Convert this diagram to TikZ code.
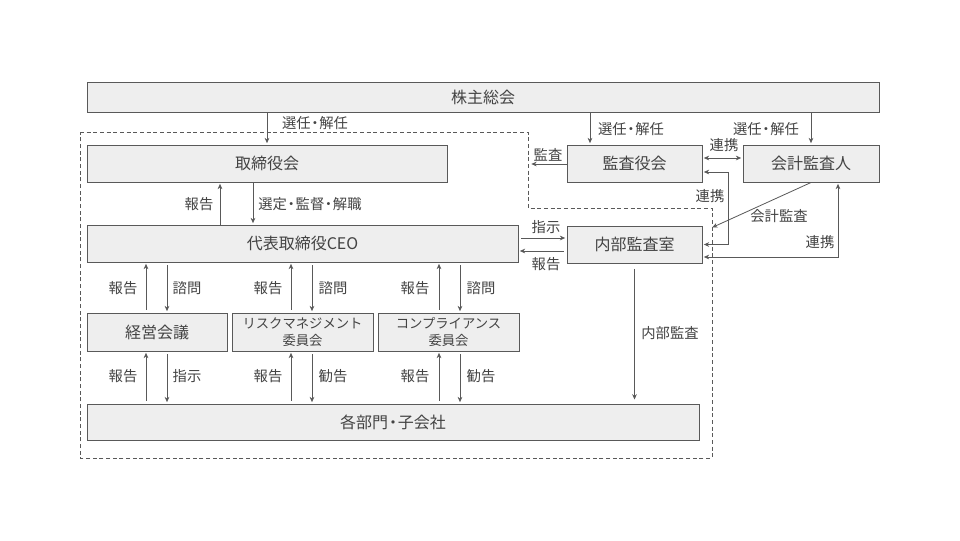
\documentclass[tikz,border=0pt]{standalone}
\usepackage{fontspec}
\setmainfont{Noto Sans CJK JP}
\usetikzlibrary{arrows.meta,calc}
\definecolor{ln}{HTML}{595959}
\definecolor{fl}{HTML}{EEEEEE}
\definecolor{tx}{HTML}{434343}
\newcommand\ndot{\kern-0.2em・\kern-0.2em}
\tikzset{
 box/.style={draw=ln, fill=fl, line width=0.75pt, text=tx, font=\fontsize{12}{14}\selectfont, inner sep=0pt, align=center},
 sbox/.style={box, font=\fontsize{10}{12.75}\selectfont},
 lbl/.style={text=tx, font=\fontsize{10.75}{12}\selectfont, inner sep=0pt},
 arr/.style={draw=ln, line width=0.6pt, -{Stealth[length=4pt,width=3.5pt]}, shorten >=1pt},
 arrb/.style={draw=ln, line width=0.6pt, {Stealth[length=4pt,width=3.5pt]}-{Stealth[length=4pt,width=3.5pt]}, shorten >=1pt, shorten <=1pt},
 frame/.style={draw=ln, line width=0.6pt, dash pattern=on 3pt off 2pt},
}
\begin{document}
\begin{tikzpicture}[x=0.75pt,y=-0.75pt]
\useasboundingbox (0,0) rectangle (960,540);
\fill[white] (0,0) rectangle (960,540);
% dashed frame
\draw[frame] (80,132) -- (528,132) -- (528,208) -- (712,208) -- (712,458) -- (80,458) -- cycle;
% boxes
\node[box, minimum width=594pt, minimum height=22.5pt] (sh) at (483,97) {株主総会};
\node[box, minimum width=270pt, minimum height=27.75pt] (bod) at (267,163.5) {取締役会};
\node[box, minimum width=101.25pt, minimum height=27.75pt] (kansa) at (634.5,163.5) {監査役会};
\node[box, minimum width=102pt, minimum height=27.75pt] (acct) at (811,163.5) {会計監査人};
\node[box, minimum width=323.25pt, minimum height=27.75pt] (ceo) at (302.5,243.5) {代表取締役CEO};
\node[box, minimum width=101.25pt, minimum height=27.75pt] (naibu) at (634.5,244.5) {内部監査室};
\node[box, minimum width=105pt, minimum height=28.5pt] (keiei) at (157,332) {経営会議};
\node[sbox, minimum width=105.75pt, minimum height=28.5pt] (risk) at (302.5,332) {リスクマネジメント\\委員会};
\node[sbox, minimum width=105.75pt, minimum height=28.5pt] (comp) at (448.5,332) {コンプライアンス\\委員会};
\node[box, minimum width=459pt, minimum height=27pt] (bumon) at (393,422) {各部門\ndot 子会社};
% helper coordinates
\coordinate (xk) at (590,0);
\coordinate (u1) at (220,0);
\coordinate (d1) at (253,0);
\coordinate (xa) at (146,0);
\coordinate (xb) at (167,0);
\coordinate (xc) at (291,0);
\coordinate (xd) at (312,0);
\coordinate (xe) at (439,0);
\coordinate (xf) at (460,0);
\coordinate (xg) at (838,0);
\coordinate (ya) at (0,238);
\coordinate (yb) at (0,251);
\coordinate (kw) at (530,164);
\coordinate (ae) at (711,228);
% shareholders
\draw[arr] (sh.south -| bod.north) -- (bod.north);
\draw[arr] (sh.south -| xk) -- (kansa.north -| xk);
\draw[arr] (sh.south -| acct.north) -- (acct.north);
% board - ceo
\draw[arr] (ceo.north -| u1) -- (bod.south -| u1);
\draw[arr] (bod.south -| d1) -- (ceo.north -| d1);
% ceo - committees
\draw[arr, shorten <=2pt] (keiei.north -| xa) -- (ceo.south -| xa);
\draw[arr, shorten <=2pt] (ceo.south -| xb) -- (keiei.north -| xb);
\draw[arr, shorten <=2pt] (risk.north -| xc) -- (ceo.south -| xc);
\draw[arr, shorten <=2pt] (ceo.south -| xd) -- (risk.north -| xd);
\draw[arr, shorten <=2pt] (comp.north -| xe) -- (ceo.south -| xe);
\draw[arr, shorten <=2pt] (ceo.south -| xf) -- (comp.north -| xf);
% committees - divisions
\draw[arr, shorten <=2pt] (bumon.north -| xa) -- (keiei.south -| xa);
\draw[arr, shorten <=2pt] (keiei.south -| xb) -- (bumon.north -| xb);
\draw[arr, shorten <=2pt] (bumon.north -| xc) -- (risk.south -| xc);
\draw[arr, shorten <=2pt] (risk.south -| xd) -- (bumon.north -| xd);
\draw[arr, shorten <=2pt] (bumon.north -| xe) -- (comp.south -| xe);
\draw[arr, shorten <=2pt] (comp.south -| xf) -- (bumon.north -| xf);
% audit side
\draw[arr] (kansa.west |- kw) -- (kw);
\draw[arrb] ([yshift=4.125pt]kansa.east) -- ([yshift=4.125pt]acct.west);
\draw[arrb] ([yshift=-6.375pt]kansa.east) -- ++(26,0) |- (naibu.east);
\draw[arr] (acct.south) -- (ae);
\draw[arrb] ([yshift=-9.375pt]naibu.east) -| (acct.south -| xg);
\draw[arr, shorten <=2pt] (ceo.east |- ya) -- (naibu.west |- ya);
\draw[arr, shorten <=2pt] (naibu.west |- yb) -- (ceo.east |- yb);
\draw[arr, shorten <=4pt, shorten >=3pt] (naibu.south) -- (bumon.north -| naibu.south);
% labels
\node[lbl] (l1) at (315,123) {選任\ndot 解任};
\node[lbl] (l2) at (631,129) {選任\ndot 解任};
\node[lbl] (l3) at (766,129) {選任\ndot 解任};
\node[lbl] (l4) at (548,155) {監査};
\node[lbl] (l5) at (724,145) {連携};
\node[lbl] (l6) at (710,196) {連携};
\node[lbl] (l7) at (779,216) {会計監査};
\node[lbl] (l8) at (820,242) {連携};
\node[lbl] (l9) at (546,227) {指示};
\node[lbl] (l10) at (546,264) {報告};
\node[lbl] (l11) at (670,333) {内部監査};
\node[lbl] (l12) at (199,204) {報告};
\node[lbl] (l13) at (310,204) {選定\ndot 監督\ndot 解職};
\node[lbl] (l14) at (123,288) {報告};
\node[lbl] (l15) at (187,288) {諮問};
\node[lbl] (l16) at (268,288) {報告};
\node[lbl] (l17) at (333,288) {諮問};
\node[lbl] (l18) at (415,288) {報告};
\node[lbl] (l19) at (481,288) {諮問};
\node[lbl] (l20) at (123,376) {報告};
\node[lbl] (l21) at (187,376) {指示};
\node[lbl] (l22) at (268,376) {報告};
\node[lbl] (l23) at (333,376) {勧告};
\node[lbl] (l24) at (415,376) {報告};
\node[lbl] (l25) at (481,376) {勧告};
\end{tikzpicture}
\end{document}
